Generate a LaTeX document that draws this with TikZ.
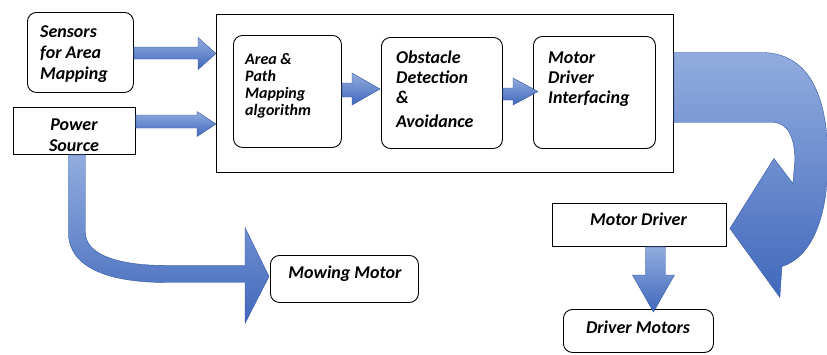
\documentclass[tikz,border=0pt]{standalone}
\usepackage{fontspec}
\setmainfont{Carlito}
\usetikzlibrary{calc}

\definecolor{flowLight}{RGB}{146,172,222}
\definecolor{flowDark}{RGB}{64,104,188}
\definecolor{flowEdge}{RGB}{52,86,160}

% horizontal block arrow: from, to, half shaft, half head, head length
\newcommand\blockright[5]{%
  \path[flow] let \p1=(#1), \p2=(#2) in
    (\x1,\y1+#3) -- (\x2-#5,\y1+#3) -- (\x2-#5,\y2+#4) -- (\x2,\y2)
    -- (\x2-#5,\y2-#4) -- (\x2-#5,\y1-#3) -- (\x1,\y1-#3) -- cycle;}

\begin{document}
\begin{tikzpicture}[x=1pt,y=-1pt,
  box/.style={draw=black, line width=0.9pt, fill=white, inner sep=0pt, anchor=north west},
  rbox/.style={box, rounded corners=9pt},
  bigtxt/.style={font=\fontsize{18}{21}\selectfont\bfseries\itshape, inner sep=0pt},
  midtxt/.style={font=\fontsize{18}{20}\selectfont\bfseries\itshape, inner sep=0pt, align=left, anchor=north west},
  smalltxt/.style={font=\fontsize{16}{17}\selectfont\bfseries\itshape, inner sep=0pt, align=left, anchor=north west},
  flow/.style={draw=flowEdge, line width=0.4pt, top color=flowLight, bottom color=flowDark}]
\useasboundingbox (0,0) rectangle (827,354);

% blocks
\node[rbox, minimum width=106pt, minimum height=80pt] (sensors) at (27,12) {};
\node[box,  minimum width=122pt, minimum height=47pt] (power) at (13,107) {};
\node[box,  minimum width=457pt, minimum height=158pt] (main) at (216,14) {};
\node[rbox, minimum width=108pt, minimum height=112pt] (area) at (233,35) {};
\node[rbox, minimum width=121pt, minimum height=111pt] (obst) at (381,37) {};
\node[rbox, minimum width=122pt, minimum height=112pt] (mdi) at (533,36) {};
\node[box,  minimum width=174pt, minimum height=43pt] (mdrv) at (552,203) {};
\node[rbox, minimum width=150pt, minimum height=43pt] (drvm) at (563,309) {};
\node[rbox, minimum width=148pt, minimum height=47pt] (mow) at (270,255) {};

% labels
\node[bigtxt, align=left, anchor=north west] (sensorsT) at (40,25.5) {Sensors\\for Area\\Mapping};
\node[bigtxt, align=center, anchor=north] (powerT) at (74,118.5) {Power\\Source};
\node[smalltxt] (areaT) at (245,53) {Area \&\\Path\\Mapping\\algorithm};
\node[midtxt] (obstT) at (396,50.5) {Obstacle\\Detection\\\&\\[4pt]Avoidance};
\node[midtxt] (mdiT) at (548,51.5) {Motor\\Driver\\Interfacing};
\node[bigtxt, anchor=base] (mdrvT) at (638.5,225) {Motor Driver};
\node[bigtxt, anchor=base] (mowT) at (345,278) {Mowing Motor};
\node[bigtxt, anchor=base] (drvmT) at (638,333) {Driver Motors};

% straight block arrows
\blockright{sensors.east |- 0,53}{main.west |- 0,53.5}{6pt}{16pt}{18pt}
\blockright{power.east |- 0,121.5}{main.west |- 0,124}{6.5pt}{12.5pt}{19pt}
\blockright{area.east |- 0,90}{$(obst.west |- 0,89)+(-1,0)$}{7pt}{16pt}{28pt}
\blockright{obst.east |- 0,94}{$(mdi.west |- 0,91.5)+(5,0)$}{6pt}{13.5pt}{25pt}

% motor driver down to driver motors
\path[flow] let \p1=(mdrv.south), \p2=(drvm.north) in
  (\x1+6pt,\y1) -- (\x1+26pt,\y1) -- (\x1+26pt,\y2+34pt) -- (\x1+35pt,\y2+34pt)
  -- (\x1+14pt,\y2-3pt) -- (\x1-7pt,\y2+34pt) -- (\x1+6pt,\y2+34pt) -- cycle;

% power source bending round to the mowing motor
\path[flow] let \p1=(power.south), \p2=(mow.west) in
  (\x1-6pt,\y1) -- (\x1-6pt,\y2+46.5pt)
  .. controls (\x1-6pt,\y2+10.5pt) and (\x1+36pt,\y2-3.5pt) .. (\x1+91pt,\y2-3.5pt)
  -- (\x2-25pt,\y2-3.5pt) -- (\x2-25pt,\y2-44.5pt) -- (\x2-1pt,\y2+2.5pt)
  -- (\x2-25pt,\y2+51.5pt) -- (\x2-25pt,\y2+13.5pt) -- (\x1+91pt,\y2+13.5pt)
  .. controls (\x1+46pt,\y2+13.5pt) and (\x1+11pt,\y2+23.5pt) .. (\x1+11pt,\y2+46.5pt)
  -- (\x1+11pt,\y1) -- cycle;

% controller output sweeping round to the motor driver
\path[flow] let \p1=(main.east), \p2=(mdrv.east) in
  (\x1,\y1+41pt) -- (\x1+87pt,\y1+41pt)
  .. controls (\x1+129pt,\y1+41pt) and (\x1+154pt,\y1+8pt) .. (\x1+154pt,\y2+64.5pt)
  .. controls (\x1+154pt,\y2+2.5pt) and (\x2+82pt,\y2-33.5pt) .. (\x2+55pt,\y2-41.5pt)
  -- (\x2+53pt,\y2-72.5pt) -- (\x2+3pt,\y2-3.5pt) -- (\x2+47pt,\y2+66.5pt)
  -- (\x2+66pt,\y2+41.5pt) -- (\x2+68pt,\y2+64.5pt)
  .. controls (\x2+68pt,\y2+85pt) and (\x2+62pt,\y1-29pt) .. (\x2+46pt,\y1-29pt)
  -- (\x1,\y1-29pt) -- cycle;
\end{tikzpicture}
\end{document}
